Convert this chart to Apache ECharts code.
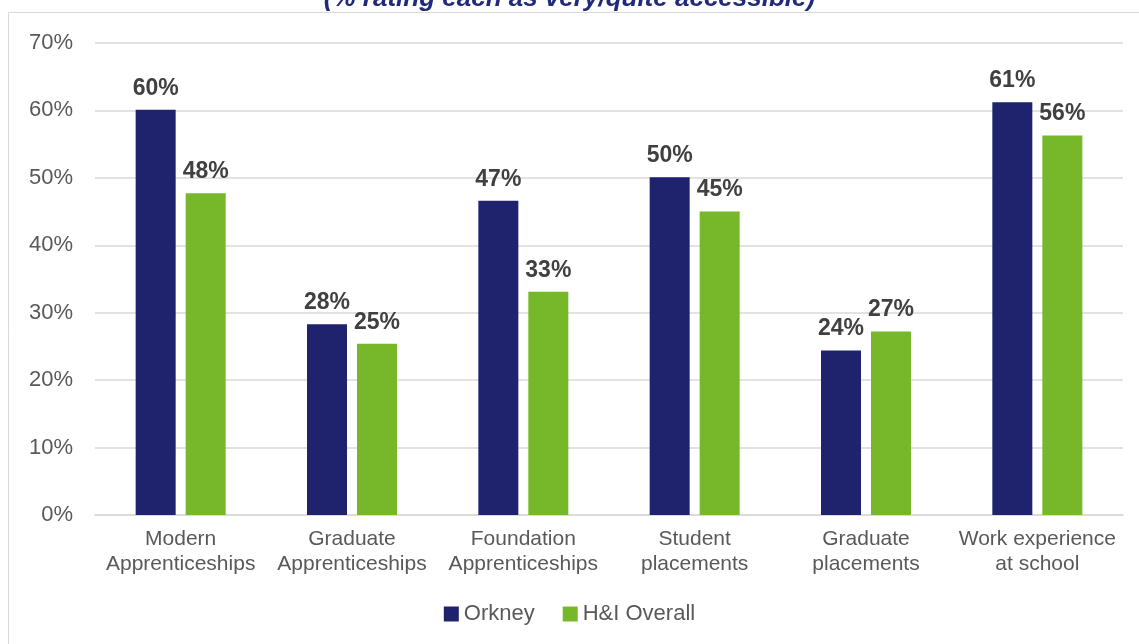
<!DOCTYPE html>
<html><head><meta charset="utf-8">
<script src="https://cdn.jsdelivr.net/npm/echarts@6/dist/echarts.min.js"></script>
<style>html,body{margin:0;padding:0;background:#fff}#c{width:1139px;height:644px}</style>
</head><body><div id="c"></div>
<script>
const categories = ['Modern\nApprenticeships','Graduate\nApprenticeships','Foundation\nApprenticeships','Student\nplacements','Graduate\nplacements','Work experience\nat school'];
const orkney = [60.1, 28.3, 46.6, 50.1, 24.4, 61.2];
const hiOverall = [47.7, 25.4, 33.1, 45.0, 27.2, 56.3];
const yTicks = [0, 10, 20, 30, 40, 50, 60, 70];
const titleText = '(% rating each as very/quite accessible)';

const FONT = '"Liberation Sans", Arial, sans-serif';
const chart = echarts.init(document.getElementById('c'));
const lbl = {
  show: true, position: 'top', distance: 10,
  fontFamily: FONT, fontSize: 23, fontWeight: 'bold', color: '#404040',
  formatter: p => Math.round(p.value) + '%'
};
chart.setOption({
  animation: false,
  textStyle: { fontFamily: FONT },
  graphic: [{
    type: 'rect', z: -10,
    shape: { x: 8.5, y: 12.5, width: 1140, height: 640 },
    style: { fill: '#ffffff', stroke: '#d9d9d9', lineWidth: 1 }
  }],
  title: {
    text: titleText, left: 'center', top: -19,
    textStyle: { fontFamily: FONT, fontSize: 26, fontWeight: 'bold', fontStyle: 'italic', color: '#1F2A7A' }
  },
  legend: {
    bottom: 14, left: 'center', itemWidth: 15, itemHeight: 15, itemGap: 28,
    icon: 'rect',
    textStyle: { fontFamily: FONT, fontSize: 22, color: '#595959' },
    data: ['Orkney', 'H&I Overall']
  },
  grid: { left: 95, right: 16, top: 43, bottom: 129, containLabel: false },
  xAxis: {
    type: 'category', data: categories,
    axisTick: { show: false },
    axisLine: { lineStyle: { color: '#d9d9d9', width: 1.5 } },
    axisLabel: { fontFamily: FONT, fontSize: 21, color: '#595959', lineHeight: 25, margin: 12, interval: 0 }
  },
  yAxis: {
    type: 'value', min: yTicks[0], max: yTicks[yTicks.length - 1], interval: 10,
    axisLine: { show: false }, axisTick: { show: false },
    splitLine: { lineStyle: { color: '#d9d9d9', width: 1.5 } },
    axisLabel: { fontFamily: FONT, fontSize: 22, color: '#595959', margin: 22, formatter: v => v + '%' }
  },
  series: [
    { name: 'Orkney', type: 'bar', data: orkney, barWidth: 40, barGap: '25%',
      itemStyle: { color: '#1F236E' }, label: lbl },
    { name: 'H&I Overall', type: 'bar', data: hiOverall, barWidth: 40, barGap: '25%',
      itemStyle: { color: '#76B82A' }, label: lbl }
  ]
});
</script></body></html>
